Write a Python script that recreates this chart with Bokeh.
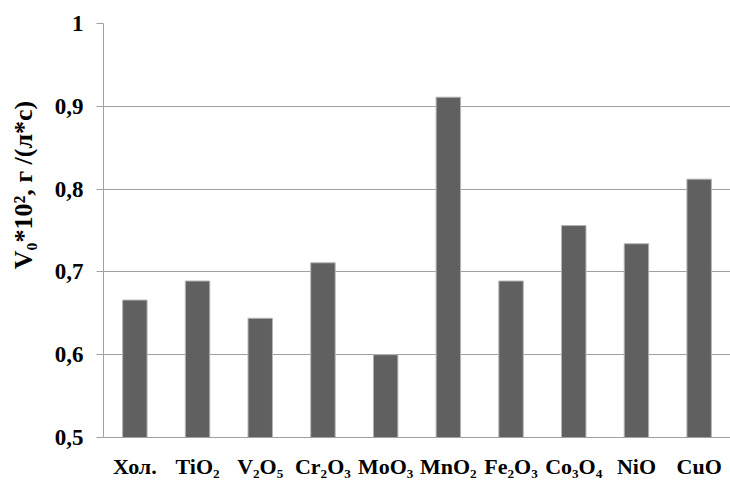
from bokeh.plotting import figure
from bokeh.models import Range1d, FactorRange, FixedTicker, CustomJSTickFormatter, ColumnDataSource
from bokeh.embed import file_html
from bokeh.resources import INLINE

categories = ["Хол.", "TiO₂", "V₂O₅", "Cr₂O₃", "MoO₃", "MnO₂", "Fe₂O₃", "Co₃O₄", "NiO", "CuO"]
values = [0.666, 0.689, 0.644, 0.711, 0.600, 0.911, 0.689, 0.756, 0.734, 0.812]
y_ticks = [0.5, 0.6, 0.7, 0.8, 0.9, 1.0]
y_min, y_max = 0.5, 1.0
y_title = "V₀*10², г /(л*с)"

FONT = "Liberation Serif"
GRID = "#a0a0a0"
PAD = "\u2003\u2003\u2003\u2002"  # leading space shifts the rotated title upwards

p = figure(width=730, height=481, x_range=FactorRange(factors=categories, range_padding=0),
           y_range=Range1d(y_min, y_max), output_backend="svg", toolbar_location=None,
           min_border_left=103, min_border_right=0, min_border_top=23, min_border_bottom=44)
p.outline_line_color = None
p.background_fill_color = "white"
p.border_fill_color = "white"

src = ColumnDataSource(dict(x=categories, top=values, bottom=[y_min] * len(values)))
p.vbar(x="x", top="top", bottom="bottom", width=0.39, source=src,
       fill_color="#606060", line_color="#b4b4b4", line_width=1)

p.xgrid.visible = False
p.ygrid.grid_line_color = GRID
p.ygrid.grid_line_width = 1
p.yaxis.ticker = FixedTicker(ticks=y_ticks)
p.yaxis.formatter = CustomJSTickFormatter(
    code="return Math.abs(tick - Math.round(tick)) < 1e-9 ? String(Math.round(tick)) : tick.toFixed(1).replace('.', ',');")
p.yaxis.axis_line_color = GRID
p.yaxis.major_tick_line_color = GRID
p.yaxis.major_tick_out = 7
p.yaxis.major_tick_in = 0
p.yaxis.minor_tick_line_color = None
p.yaxis.major_label_standoff = 13
p.yaxis.major_label_text_font = FONT
p.yaxis.major_label_text_font_style = "bold"
p.yaxis.major_label_text_font_size = "23px"
p.yaxis.major_label_text_color = "black"
p.yaxis.axis_label = PAD + y_title
p.yaxis.axis_label_text_font = FONT
p.yaxis.axis_label_text_font_style = "bold"
p.yaxis.axis_label_text_font_size = "26px"
p.yaxis.axis_label_text_color = "black"
p.yaxis.axis_label_standoff = 14

p.xaxis.axis_line_color = GRID
p.xaxis.major_tick_line_color = None
p.xaxis.major_tick_out = 0
p.xaxis.major_tick_in = 0
p.xaxis.minor_tick_line_color = None
p.xaxis.major_label_standoff = 16
p.xaxis.major_label_text_font = FONT
p.xaxis.major_label_text_font_style = "bold"
p.xaxis.major_label_text_font_size = "22px"
p.xaxis.major_label_text_color = "black"

open("out.html", "w").write(file_html(p, INLINE))
